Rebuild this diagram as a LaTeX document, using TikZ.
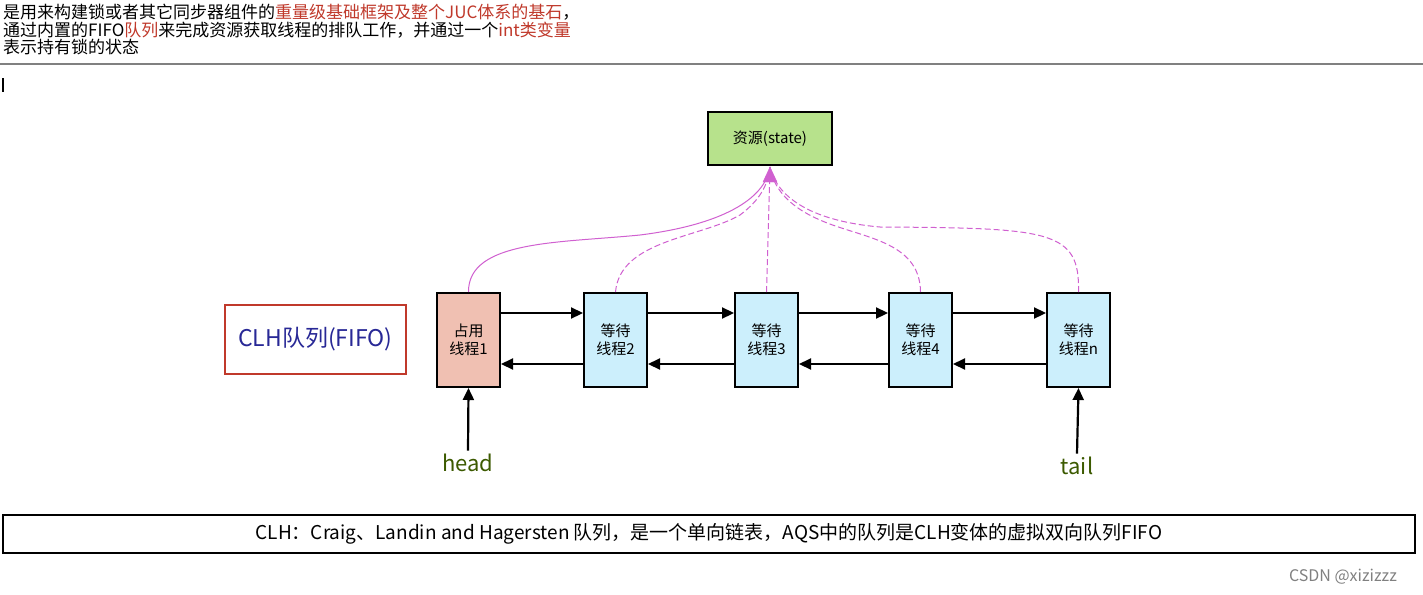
\documentclass[tikz,border=0pt]{standalone}
\usepackage{fontspec}
\setmainfont{Noto Sans CJK SC}
\usetikzlibrary{arrows.meta}
\definecolor{rd}{HTML}{C0392B}
\definecolor{mg}{HTML}{D060D0}
\definecolor{gr}{HTML}{3C5A00}
\begin{document}
\begin{tikzpicture}[x=1pt,y=-1pt,
 box/.style={draw,line width=2pt,minimum width=63pt,minimum height=94pt,align=center,font=\fontsize{15}{18}\selectfont,inner sep=0pt},
 wait/.style={box,fill=cyan!20},
 lk/.style={line width=2.2pt,-{Triangle[length=12pt,width=11pt]}},
 sol/.style={mg,line width=1pt},
 dsh/.style={mg,line width=1pt,dash pattern=on 6pt off 3pt}]
\useasboundingbox (0,0) rectangle (1423,594);
\fill[white] (0,0) rectangle (1423,594);
\node[anchor=north west,align=left,inner sep=0pt,font=\fontsize{17}{17.5}\selectfont] (top) at (3,4)
 {是用来构建锁或者其它同步器组件的\textcolor{rd}{重量级基础框架及整个JUC体系的基石}，\\
 通过内置的FIFO\textcolor{rd}{队列}来完成资源获取线程的排队工作，并通过一个\textcolor{rd}{int类变量}\\
 表示持有锁的状态};
\draw[gray,line width=1.2pt] (0,64) -- (1423,64);
\draw[line width=1.2pt] (3,78) -- (3,92);
\node[draw,line width=1.6pt,fill={rgb,255:red,183;green,226;blue,140},minimum width=124pt,minimum height=53pt,font=\fontsize{15}{18}\selectfont] (st) at (770,138.5) {资源(state)};
\coordinate (tip) at (770,167);
\node[box,fill={rgb,255:red,240;green,192;blue,178}] (t1) at (468.5,340) {占用\\线程1};
\node[wait] (t2) at (615.5,340) {等待\\线程2};
\node[wait] (t3) at (766.5,340) {等待\\线程3};
\node[wait] (t4) at (920.5,340) {等待\\线程4};
\node[wait] (tn) at (1078.5,340) {等待\\线程n};
\foreach \a/\b in {t1/t2,t2/t3,t3/t4,t4/tn}{
 \draw[lk] ([yshift=27pt]\a.east) -- ([yshift=27pt]\b.west);
 \draw[lk] ([yshift=-24pt]\b.west) -- ([yshift=-24pt]\a.east);}
\draw[sol] (t1.north) .. controls (468,240) and (560,243) .. (640,235) .. controls (720,225) and (765,200) .. (tip);
\draw[dsh] (t2.north) .. controls (620,240) and (700,238) .. (740,215) .. controls (760,200) and (768,185) .. (tip);
\draw[dsh] (t3.north) -- (tip);
\draw[dsh] (t4.north) .. controls (920,240) and (860,238) .. (820,220) .. controls (785,205) and (773,185) .. (tip);
\draw[dsh] (tn.north) .. controls (1080,230) and (1050,228) .. (880,227) .. controls (800,220) and (775,190) .. (tip);
\draw[mg,fill=mg] (tip) -- (763,182) -- (777,182) -- cycle;
\node[draw=rd,line width=2pt,minimum width=181pt,minimum height=69pt,text={rgb,255:red,40;green,40;blue,150},font=\fontsize{23}{26}\selectfont] (clh) at (315.5,339.5) {CLH队列(FIFO)};
\node[text=gr,font=\fontsize{22}{24}\selectfont] (hd) at (468,463) {head};
\node[text=gr,font=\fontsize{22}{24}\selectfont] (tl) at (1077,466) {tail};
\draw[lk] (hd.north) -- (t1.south);
\draw[lk] (tl.north) -- (tn.south);
\node[draw,line width=1.2pt,minimum width=1412pt,minimum height=38pt,font=\fontsize{19}{22}\selectfont] (bt) at (709,534) {CLH：Craig、Landin and Hagersten 队列，是一个单向链表，AQS中的队列是CLH变体的虚拟双向队列FIFO};
\node[gray,font=\fontsize{16}{18}\selectfont] (cs) at (1343,577) {CSDN @xizizzz};
\end{tikzpicture}
\end{document}
